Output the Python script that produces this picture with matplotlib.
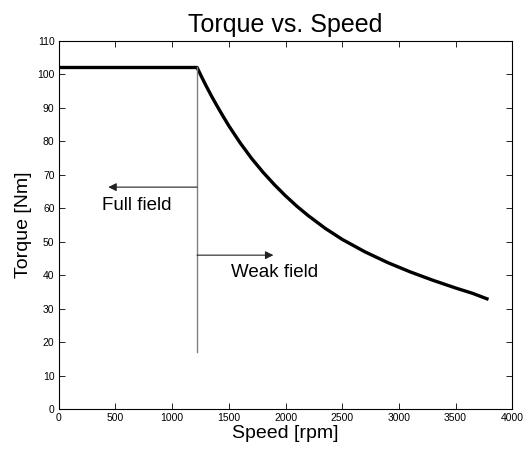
import matplotlib
matplotlib.use("Agg")
import matplotlib.pyplot as plt

# torque curve
speed = [0, 1220, 1260, 1300, 1350, 1400, 1450, 1500, 1600, 1700, 1800, 1900,
         2000, 2100, 2200, 2350, 2500, 2700, 2900, 3100, 3300, 3500, 3650, 3790]
torque = [102, 102, 99.2, 96.5, 93.3, 90.3, 87.4, 84.6, 79.5, 74.9, 70.8, 67.1,
          63.7, 60.6, 57.8, 54.0, 50.7, 47.0, 43.8, 41.0, 38.5, 36.2, 34.6, 32.8]

# base speed marker and annotations
base_speed = 1220
marker_bottom = 17.2
full_arrow = (1220, 437, 66.3)   # from x, to x, y
weak_arrow = (1220, 1893, 46)
labels = ["Full field", "Weak field"]
label_pos = [(379, 60.8), (1517, 40.9)]

xticks = list(range(0, 4001, 500))
yticks = list(range(0, 111, 10))

plt.rcParams['font.family'] = ['Liberation Sans', 'DejaVu Sans']

fig = plt.figure(figsize=(5.29, 4.5), dpi=100)
ax = fig.add_axes([0.111, 0.0904, 0.8575, 0.8192])

ax.plot(speed, torque, color='k', lw=2.4, solid_capstyle='butt',
        solid_joinstyle='round')
ax.plot([base_speed, base_speed], [marker_bottom, torque[1]], color='#808080', lw=1)

for x0, x1, y in [full_arrow, weak_arrow]:
    ax.annotate('', xy=(x1, y), xytext=(x0, y),
                arrowprops=dict(arrowstyle='-|>', color='#222222', lw=0.8,
                                mutation_scale=12, shrinkA=0, shrinkB=0))

for txt, (x, y) in zip(labels, label_pos):
    ax.text(x, y, txt, fontsize=13.5, ha='left', va='center')

ax.set_xlim(0, 4000)
ax.set_ylim(0, 110)
ax.set_xticks(xticks)
ax.set_yticks(yticks)
ax.tick_params(direction='in', top=True, right=True, length=4, width=0.6,
               labelsize=7.5, pad=3)
for s in ax.spines.values():
    s.set_linewidth(0.8)

ax.set_title('Torque vs. Speed', fontsize=18, pad=6)
ax.set_xlabel('Speed [rpm]', fontsize=14, labelpad=1)
ax.set_ylabel('Torque [Nm]', fontsize=14, labelpad=4)

fig.savefig('out.png', dpi=100)
